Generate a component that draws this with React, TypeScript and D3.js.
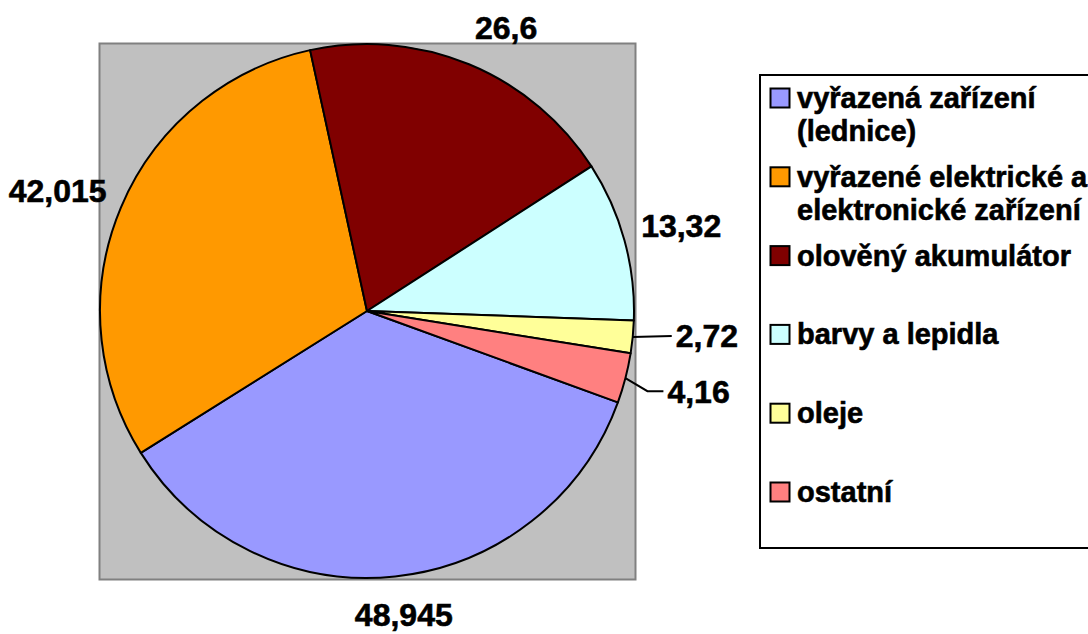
import React from "react";
import * as d3 from "d3";

const categories = [
  "vyřazená zařízení (lednice)",
  "vyřazené elektrické a elektronické zařízení",
  "olověný akumulátor",
  "barvy a lepidla",
  "oleje",
  "ostatní",
];
const legendLines = [
  ["vyřazená zařízení", "(lednice)"],
  ["vyřazené elektrické a", "elektronické zařízení"],
  ["olověný akumulátor"],
  ["barvy a lepidla"],
  ["oleje"],
  ["ostatní"],
];
const values = [48.945, 42.015, 26.6, 13.32, 2.72, 4.16];
const valueLabels = ["48,945", "42,015", "26,6", "13,32", "2,72", "4,16"];
const colors = ["#9999FF", "#FF9900", "#800000", "#CCFFFF", "#FFFF99", "#FF8080"];

const W = 1088;
const H = 634;
const FONT = "'Liberation Sans', Arial, Helvetica, sans-serif";

export default function App() {
  const cx = 367;
  const cy = 311;
  const r = 267;
  const start = (110 * Math.PI) / 180;

  const pie = d3
    .pie<number>()
    .sort(null)
    .value((d) => d)
    .startAngle(start)
    .endAngle(start + 2 * Math.PI);
  const arcs = pie(values);
  const arc = d3.arc<d3.PieArcDatum<number>>().innerRadius(0).outerRadius(r);

  const labelFs = 32;
  const legendFs = 29;
  const pad = 24;
  const halfH = 12;

  const textWidth = (s: string) => {
    let w = 0;
    for (const ch of s) w += ch === "," ? 0.278 : 0.556;
    return w * labelFs;
  };

  // layout nudges (Excel best-fit placement) and leader-line labels for small slices
  const nudge: [number, number][] = [
    [1, 2],
    [4, -3],
    [16, -3],
    [-5, -5],
    [0, 0],
    [0, 0],
  ];
  const leader: Record<number, { dx: number; dy: number; elbow: boolean }> = {
    4: { dx: 43, dy: -1, elbow: false },
    5: { dx: 42, dy: 13, elbow: true },
  };

  const labels = arcs.map((a, i) => {
    const mid = (a.startAngle + a.endAngle) / 2;
    const s = Math.sin(mid);
    const c = -Math.cos(mid);
    if (leader[i]) {
      const ax = cx + r * s;
      const ay = cy + r * c;
      const L = leader[i];
      const lx = ax + L.dx;
      const ly = ay + L.dy;
      const pts: [number, number][] = L.elbow
        ? [
            [ax, ay],
            [lx - 20, ly],
            [lx - 4, ly],
          ]
        : [
            [ax, ay],
            [lx - 4, ly],
          ];
      return { x: lx, y: ly, anchor: "start", pts, text: valueLabels[i] };
    }
    const px = cx + (r + pad) * s;
    const py = cy + (r + pad) * c;
    const hw = textWidth(valueLabels[i]) / 2;
    return {
      x: px + s * hw + nudge[i][0],
      y: py + c * halfH + nudge[i][1],
      anchor: "middle",
      pts: null as [number, number][] | null,
      text: valueLabels[i],
    };
  });

  const legendY = d3
    .scaleLinear()
    .domain([0, categories.length - 1])
    .range([108, 502]);

  const line = d3.line();

  return (
    <svg
      width={W}
      height={H}
      style={{ position: "absolute", left: 0, top: 0, background: "#fff" }}
      fontFamily={FONT}
      fontWeight="bold"
    >
      <rect x={99.5} y={43.5} width={536} height={536} fill="#C0C0C0" stroke="#808080" strokeWidth={2} />
      <g transform={`translate(${cx},${cy})`}>
        {arcs.map((a, i) => (
          <path key={i} d={arc(a) || ""} fill={colors[i]} stroke="#000" strokeWidth={2} strokeLinejoin="round" />
        ))}
      </g>
      {labels.map((l, i) => (
        <g key={i}>
          {l.pts && <path d={line(l.pts) || ""} fill="none" stroke="#000" strokeWidth={2} />}
          <text
            x={l.x}
            y={l.y + labelFs * 0.358}
            textAnchor={l.anchor}
            fontSize={labelFs}
            fill="#000"
            stroke="#000"
            strokeWidth={0.6}
          >
            {l.text}
          </text>
        </g>
      ))}
      <rect x={760} y={75} width={340} height={473} fill="#fff" stroke="#000" strokeWidth={2} />
      {legendLines.map((lines, i) => {
        const by = legendY(i);
        return (
          <g key={i}>
            <rect x={770.5} y={by - 19.5} width={19} height={19} fill={colors[i]} stroke="#000" strokeWidth={2} />
            {lines.map((t, j) => (
              <text
                key={j}
                x={797}
                y={by + j * 33}
                fontSize={legendFs}
                fill="#000"
                stroke="#000"
                strokeWidth={0.6}
              >
                {t}
              </text>
            ))}
          </g>
        );
      })}
    </svg>
  );
}
